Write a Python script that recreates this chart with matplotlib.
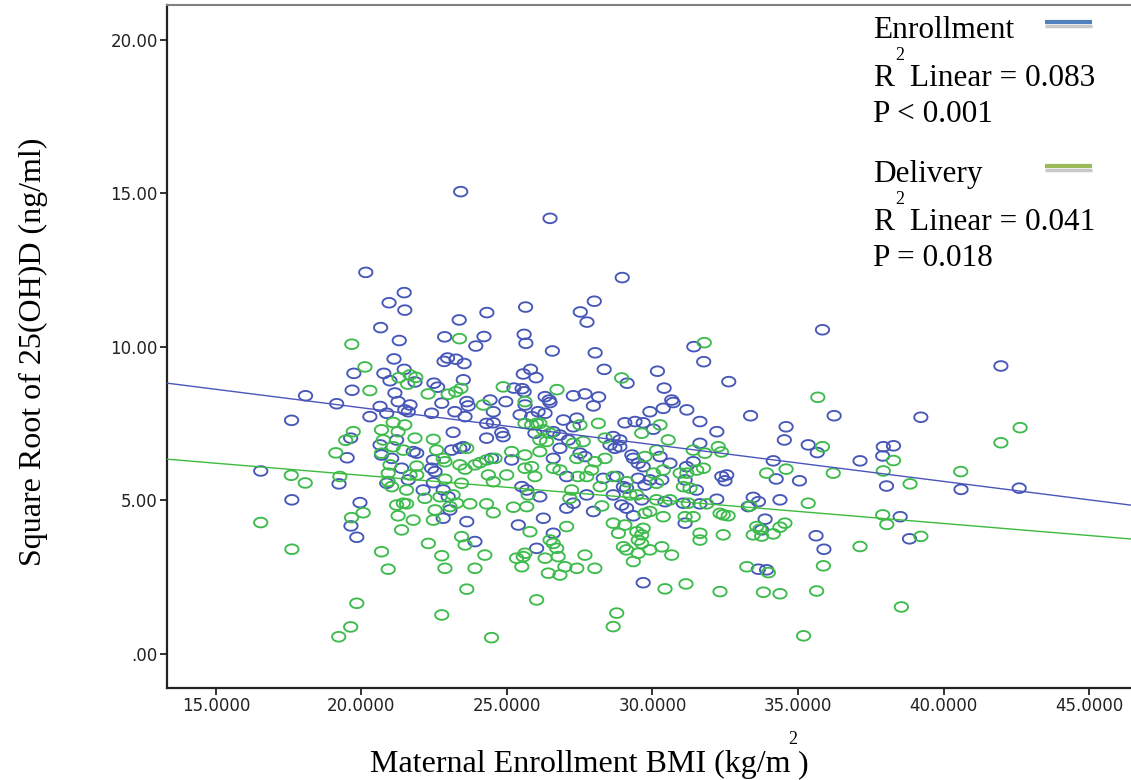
import numpy as np
import matplotlib
matplotlib.use("Agg")
import matplotlib.pyplot as plt
from matplotlib.path import Path
from matplotlib.lines import Line2D

# Enrollment: BMI vs square root of 25(OH)D
enroll_bmi = [
    23.41, 20.15, 21.47, 20.95, 21.49, 20.66, 24.31, 25.64, 23.36, 21.30,
    22.86, 24.21, 23.93, 25.59, 25.65, 21.12, 22.84, 22.96, 23.25, 23.53,
    19.74, 20.77, 21.47, 20.98, 21.84, 22.49, 22.62, 23.50, 25.24, 25.52,
    25.59, 25.56, 25.81, 26.00, 19.68, 21.15, 26.48, 28.96, 28.00, 27.52,
    27.75, 26.56, 28.03, 28.34, 30.17, 31.42, 31.76, 29.13, 30.40, 27.28,
    28.15, 30.66, 35.84, 32.62, 41.97, 18.08, 19.15, 17.60, 19.63, 19.51,
    16.54, 19.23, 17.61, 19.95, 19.64, 19.84, 22.76, 23.62, 23.67, 23.21,
    23.56, 24.42, 24.53, 24.96, 25.62, 25.45, 25.85, 24.30, 24.53, 20.64,
    20.87, 20.29, 21.26, 21.67, 21.49, 21.61, 22.41, 23.15, 21.21, 20.64,
    20.69, 24.30, 24.82, 24.87, 21.78, 21.90, 23.10, 23.38, 23.50, 24.47,
    25.16, 21.04, 21.38, 22.47, 22.41, 22.53, 20.87, 21.61, 22.47, 22.12,
    22.81, 22.98, 25.51, 25.68, 23.04, 22.81, 23.62, 23.90, 25.39, 26.02,
    27.68, 27.97, 26.31, 26.45, 26.48, 26.07, 26.31, 26.94, 27.40, 27.28,
    25.96, 26.59, 26.82, 27.11, 29.05, 29.40, 29.68, 29.91, 30.37, 30.71,
    31.18, 31.63, 30.03, 32.21, 31.63, 28.65, 28.88, 28.54, 28.71, 28.88,
    26.82, 26.59, 27.51, 27.68, 29.29, 29.34, 29.51, 29.68, 30.26, 30.60,
    31.40, 31.17, 27.05, 28.31, 28.77, 29.51, 29.91, 30.32, 31.12, 31.51,
    26.13, 29.00, 29.11, 29.74, 27.74, 28.65, 29.63, 30.43, 31.06, 31.63,
    32.21, 27.05, 27.28, 28.94, 29.11, 27.97, 29.34, 31.12, 26.25, 26.59,
    29.68, 33.37, 36.24, 34.59, 34.53, 35.35, 35.66, 34.15, 37.13, 37.93,
    38.28, 37.91, 34.25, 35.05, 38.04, 32.38, 32.49, 32.55, 33.46, 33.64,
    33.29, 34.38, 33.87, 33.75, 35.62, 35.89, 38.51, 33.64, 33.92,
    39.22, 40.60, 42.60, 38.83,
]
enroll_vitd = [
    15.06, 12.43, 11.77, 11.44, 11.20, 10.63, 11.12, 11.30, 10.88, 10.21,
    10.33, 10.34, 10.03, 10.41, 10.12, 9.61, 9.53, 9.64, 9.60, 9.46,
    9.14, 9.14, 9.27, 8.90, 8.86, 8.82, 8.69, 8.93, 8.66, 8.64,
    8.54, 9.12, 9.27, 9.00, 8.59, 8.50, 14.19, 12.26, 11.49, 11.14,
    10.81, 9.87, 9.81, 9.27, 9.21, 10.01, 9.52, 8.82, 8.66, 8.41,
    8.37, 8.27, 10.56, 8.87, 9.38, 8.41, 8.15, 7.61, 7.03, 6.39,
    5.96, 5.54, 5.02, 4.93, 4.17, 3.80, 8.17, 8.22, 8.08, 7.89,
    7.73, 8.27, 7.89, 8.22, 8.11, 7.79, 7.73, 7.51, 7.53, 8.06,
    7.84, 7.73, 8.22, 8.11, 7.95, 7.89, 7.84, 7.22, 6.97, 6.81,
    6.48, 7.03, 7.21, 7.08, 6.59, 6.54, 6.64, 6.70, 6.75, 6.37,
    6.32, 6.37, 6.05, 6.32, 6.05, 5.94, 5.56, 5.67, 5.58, 5.34,
    5.34, 5.12, 5.45, 5.34, 4.69, 4.42, 4.31, 3.66, 4.20, 3.44,
    8.47, 8.08, 8.38, 8.27, 8.19, 7.89, 7.84, 7.62, 7.68, 7.40,
    7.19, 7.24, 7.13, 6.97, 7.53, 7.57, 7.53, 7.89, 8.00, 8.19,
    7.95, 7.57, 7.32, 7.24, 6.86, 7.08, 6.97, 6.81, 6.70, 6.75,
    6.70, 6.37, 6.54, 6.43, 6.48, 6.37, 6.21, 6.10, 6.43, 6.21,
    6.26, 6.10, 5.78, 5.72, 5.78, 5.72, 5.67, 5.67, 5.67, 5.34,
    5.12, 5.45, 5.40, 5.50, 5.18, 5.18, 5.02, 4.96, 4.91, 4.89,
    5.04, 4.75, 4.91, 4.85, 4.75, 4.64, 4.50, 4.26, 4.42, 3.93,
    2.32, 7.76, 7.76, 7.40, 6.97, 6.81, 6.56, 6.29, 6.29, 6.75,
    6.78, 6.45, 5.70, 5.64, 5.47, 5.78, 5.64, 5.83, 5.10, 4.96,
    4.80, 5.02, 4.39, 4.04, 3.85, 3.41, 4.47, 2.76, 2.74,
    7.71, 5.36, 5.40, 3.75,
]

# Delivery: BMI vs square root of 25(OH)D
deliv_bmi = [
    23.37, 19.67, 20.12, 21.29, 21.67, 21.87, 21.59, 23.42, 23.24, 22.98,
    22.29, 24.87, 20.29, 31.78, 28.94, 26.72, 35.68, 19.72, 19.46, 19.12,
    17.59, 18.07, 16.54, 19.66, 17.61, 19.84, 19.63, 19.22, 24.19, 25.62,
    25.62, 25.85, 26.02, 21.09, 21.49, 20.69, 21.26, 20.75, 21.09, 21.44,
    21.84, 22.47, 22.58, 23.62, 25.16, 24.30, 24.59, 20.69, 20.98, 20.92,
    21.90, 22.81, 22.87, 23.38, 23.56, 23.90, 24.07, 24.36, 24.99, 25.62,
    25.85, 25.96, 19.26, 20.92, 21.04, 21.67, 21.90, 22.87, 23.44, 24.53,
    21.55, 22.18, 22.70, 23.15, 25.73, 23.27, 23.73, 20.06, 21.21, 21.44,
    21.55, 23.04, 24.30, 24.53, 25.22, 25.68, 21.26, 22.53, 22.47, 21.78,
    21.38, 23.44, 23.56, 25.79, 22.30, 24.24, 22.76, 20.69, 20.92, 22.87,
    23.90, 25.33, 25.56, 25.51, 23.62, 22.76, 26.02, 24.47, 27.51, 28.14,
    26.13, 26.25, 26.48, 26.13, 26.36, 27.28, 27.62, 30.26, 29.63, 30.54,
    28.37, 26.13, 25.62, 27.40, 28.02, 28.37, 29.74, 30.14, 31.40, 31.80,
    32.26, 26.59, 26.82, 27.91, 27.44, 27.74, 28.65, 29.11, 30.03, 30.37,
    30.95, 31.18, 31.52, 31.75, 31.06, 31.29, 28.20, 30.14, 27.22, 27.16,
    29.23, 29.46, 30.14, 30.60, 31.23, 31.86, 28.26, 29.74, 29.91, 30.37,
    31.12, 31.40, 31.63, 31.63, 32.32, 27.05, 26.48, 26.59, 26.71, 25.62,
    26.31, 26.76, 27.68, 26.99, 27.40, 28.02, 26.42, 26.82, 28.65, 29.05,
    28.83, 29.46, 29.63, 29.68, 29.51, 29.63, 29.00, 29.11, 29.51, 29.91,
    30.32, 29.34, 30.66, 30.43, 31.15, 32.32, 28.77, 28.65, 32.37, 35.84,
    38.28, 33.92, 34.59, 36.21, 37.93, 35.35, 33.35, 32.43, 32.60, 33.58,
    33.69, 33.46, 33.75, 34.55, 34.38, 34.15, 32.43, 37.13, 37.91, 38.05,
    33.24, 33.98, 35.87, 33.81, 34.38, 35.64, 38.55, 35.19, 42.63, 41.97,
    40.59, 38.85, 39.22,
]
deliv_vitd = [
    10.27, 10.09, 9.35, 9.00, 9.09, 9.01, 8.79, 8.65, 8.54, 8.46,
    8.47, 8.70, 8.58, 10.14, 8.99, 8.61, 8.36, 7.24, 6.96, 6.55,
    5.82, 5.57, 4.28, 4.44, 3.41, 1.65, 0.88, 0.56, 8.11, 8.22,
    7.51, 7.46, 7.51, 7.54, 7.46, 7.30, 7.24, 6.97, 6.75, 6.64,
    7.03, 6.99, 6.64, 6.70, 6.59, 6.32, 6.37, 6.54, 6.16, 5.89,
    6.12, 6.37, 6.26, 6.16, 6.02, 6.16, 6.23, 5.83, 5.83, 6.05,
    6.10, 5.78, 5.78, 5.62, 5.45, 5.83, 5.83, 5.69, 5.56, 5.61,
    5.34, 5.07, 5.12, 5.18, 5.18, 4.91, 4.89, 4.60, 4.85, 4.91,
    4.89, 4.80, 4.89, 4.60, 4.78, 4.80, 4.50, 4.69, 4.36, 4.36,
    4.04, 3.82, 3.55, 3.98, 3.60, 3.22, 3.20, 3.33, 2.76, 2.79,
    2.79, 3.12, 3.17, 2.84, 2.11, 1.27, 1.76, 0.53, 7.46, 7.51,
    7.51, 7.30, 7.19, 6.97, 6.92, 6.86, 6.92, 7.46, 7.19, 6.97,
    7.03, 6.59, 6.48, 6.37, 6.26, 6.37, 6.43, 6.64, 6.64, 6.54,
    6.75, 6.05, 5.99, 5.99, 5.78, 5.78, 5.78, 5.61, 5.89, 5.99,
    5.89, 5.89, 5.99, 6.05, 5.45, 5.40, 5.45, 5.56, 5.34, 5.07,
    5.18, 5.18, 5.02, 5.02, 4.91, 4.89, 4.82, 4.58, 4.64, 4.47,
    4.47, 4.47, 3.93, 3.71, 4.58, 4.15, 3.71, 3.60, 3.44, 3.28,
    3.12, 3.17, 3.22, 2.84, 2.79, 2.79, 2.63, 2.57, 4.26, 4.20,
    3.93, 3.98, 3.88, 4.09, 3.71, 3.60, 3.49, 3.39, 3.28, 3.39,
    3.49, 3.01, 3.22, 2.12, 2.28, 2.03, 1.33, 0.89, 6.58, 6.75,
    6.30, 5.89, 6.02, 5.89, 5.96, 4.91, 4.82, 4.53, 4.50, 4.15,
    4.06, 3.88, 3.84, 4.26, 4.13, 3.91, 3.88, 3.50, 4.53, 4.22,
    2.84, 2.65, 2.87, 2.01, 1.96, 2.05, 1.53, 0.59, 7.37, 6.88,
    5.94, 5.54, 3.83,
]

# fit lines (intercept, slope)
enroll_fit = (10.42, -0.1200)
deliv_fit = (7.39, -0.0785)

x_ticks = [15, 20, 25, 30, 35, 40, 45]
y_ticks = [0, 5, 10, 15, 20]

enroll_stats = ["Enrollment", "Linear = 0.083", "P < 0.001"]
deliv_stats = ["Delivery", "Linear = 0.041", "P = 0.018"]

assert len(enroll_bmi) == len(enroll_vitd)
assert len(deliv_bmi) == len(deliv_vitd)

W, H = 1131, 780
fig = plt.figure(figsize=(W / 100, H / 100), dpi=100)
ax = fig.add_axes([167 / W, 1 - 688 / H, (1131 - 167) / W, (688 - 5) / H])

blue = "#4657b8"
green = "#3dbb4c"

# SPSS circles come out stretched sideways in the original
t = np.linspace(0, 2 * np.pi, 61)
ellipse = Path(np.column_stack([1.38 * np.cos(t), np.sin(t)]))

ax.scatter(enroll_bmi, enroll_vitd, s=92, marker=ellipse, facecolors="none",
           edgecolors=blue, linewidths=1.35, zorder=2)
ax.scatter(deliv_bmi, deliv_vitd, s=92, marker=ellipse, facecolors="none",
           edgecolors=green, linewidths=1.35, zorder=3)

xlim = (13.32, 46.44)
xs = np.array(xlim)
ax.plot(xs, enroll_fit[0] + enroll_fit[1] * xs, color="#4a56bb", lw=1.0, zorder=4)
ax.plot(xs, deliv_fit[0] + deliv_fit[1] * xs, color="#3cbb3c", lw=1.0, zorder=4)

ax.set_xlim(*xlim)
ax.set_ylim(-1.11, 21.14)

ax.set_xticks(x_ticks)
ax.set_xticklabels([f"{v:.4f}" for v in x_ticks])
ax.set_yticks(y_ticks)
ax.set_yticklabels([f"{v:.2f}".lstrip("0") if v == 0 else f"{v:.2f}" for v in y_ticks])
ax.tick_params(direction="out", length=5, width=1.3, colors="#222222",
               labelsize=12, pad=1.5)
for lab in ax.get_xticklabels() + ax.get_yticklabels():
    lab.set_family("DejaVu Sans")

ax.spines["left"].set_linewidth(1.6)
ax.spines["bottom"].set_linewidth(1.6)
ax.spines["left"].set_color("#222222")
ax.spines["bottom"].set_color("#222222")
ax.spines["top"].set_color("#808080")
ax.spines["top"].set_linewidth(1.5)
ax.spines["right"].set_visible(False)

serif = "Liberation Serif"

# axis titles
fig.text(790 / W, 1 - 772 / H, "Maternal Enrollment BMI (kg/m", ha="right",
         va="baseline", fontsize=23, family=serif)
fig.text(793 / W, 1 - 744 / H, "2", ha="center", va="baseline", fontsize=13,
         family=serif)
fig.text(798 / W, 1 - 772 / H, ")", ha="left", va="baseline", fontsize=23,
         family=serif)
fig.text(33 / W, 1 - 352 / H, "Square Root of 25(OH)D (ng/ml)", rotation=90,
         ha="center", va="center", fontsize=23, family=serif)


def stats_block(lines, top, swatch_color):
    base = [top, top + 48, top + 84]
    fig.text(873 / W, 1 - base[0] / H, lines[0], ha="left", va="baseline",
             fontsize=22.5, family=serif)
    fig.text(873 / W, 1 - base[1] / H, "R", ha="left", va="baseline",
             fontsize=22.5, family=serif)
    fig.text(895 / W, 1 - (base[1] - 26) / H, "2", ha="left", va="baseline",
             fontsize=13, family=serif)
    fig.text(910 / W, 1 - base[1] / H, lines[1], ha="left", va="baseline",
             fontsize=22.5, family=serif)
    fig.text(873 / W, 1 - base[2] / H, lines[2], ha="left", va="baseline",
             fontsize=22.5, family=serif)
    sy = top - 16
    fig.add_artist(Line2D([1045 / W, 1092 / W], [1 - (sy + 4) / H, 1 - (sy + 4) / H],
                          color="#c8c8c8", lw=2.5, solid_capstyle="butt"))
    fig.add_artist(Line2D([1045 / W, 1092 / W], [1 - sy / H, 1 - sy / H],
                          color=swatch_color, lw=3, solid_capstyle="butt"))


stats_block(enroll_stats, 38, "#4f81bd")
stats_block(deliv_stats, 182, "#9bbb59")

fig.savefig("out.png", dpi=100)
